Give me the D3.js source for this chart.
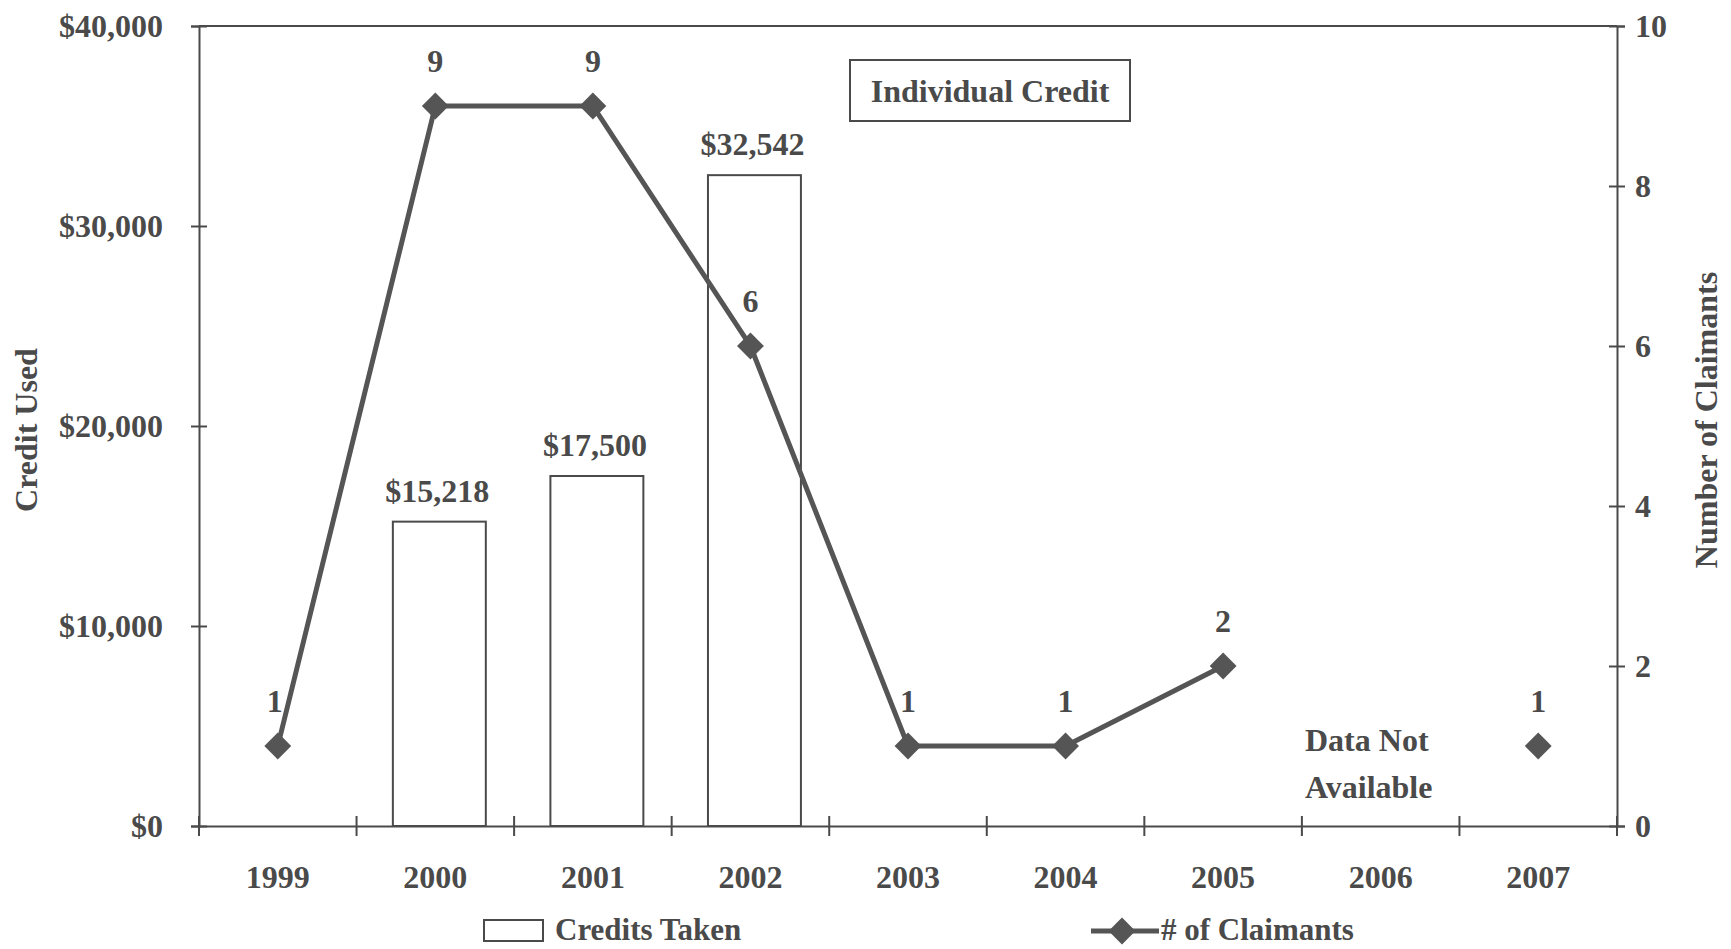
<!DOCTYPE html>
<html><head><meta charset="utf-8">
<script src="https://cdn.jsdelivr.net/npm/d3@7/dist/d3.min.js"></script>
<style>
html,body{margin:0;padding:0;background:#fff;}
text{font-family:"Liberation Serif","Times New Roman",serif;font-weight:bold;fill:#4a4a4a;}
</style></head>
<body><svg id="chart" width="1731" height="949"></svg>
<script>
const years = ["1999","2000","2001","2002","2003","2004","2005","2006","2007"];
const credits = [null, 15218, 17500, 32542, null, null, null, null, null];
const creditLabels = [null, "$15,218", "$17,500", "$32,542", null, null, null, null, null];
const claimants = [1, 9, 9, 6, 1, 1, 2, null, 1];
const leftTicks = [0, 10000, 20000, 30000, 40000];
const rightTicks = [0, 2, 4, 6, 8, 10];

const svg = d3.select("#chart");
const L = 199, R = 1617, T = 26, B = 826;
const ink = "#4a4a4a";
const FS = 32;

const x = d3.scaleBand().domain(years).range([L, R]).padding(0);
const yL = d3.scaleLinear().domain([0, 40000]).range([B, T]);
const yR = d3.scaleLinear().domain([0, 10]).range([B, T]);

// frame top line
svg.append("line").attr("x1", L).attr("x2", R).attr("y1", T).attr("y2", T)
  .attr("stroke", ink).attr("stroke-width", 2);

// bars
const bw = x.bandwidth() * 0.59;
const barData = years.map((y, i) => ({y, v: credits[i], l: creditLabels[i]})).filter(d => d.v != null);
svg.selectAll("rect.bar").data(barData)
  .enter().append("rect").attr("class", "bar")
  .attr("x", d => x(d.y) + x.bandwidth() / 2 - bw / 2 + 4)
  .attr("width", bw)
  .attr("y", d => yL(d.v))
  .attr("height", d => B - yL(d.v))
  .attr("fill", "#fff").attr("stroke", ink).attr("stroke-width", 2);

svg.selectAll("text.barlab").data(barData)
  .enter().append("text").attr("class", "barlab")
  .attr("x", d => x(d.y) + x.bandwidth() / 2 + 2)
  .attr("y", d => yL(d.v) - 20)
  .attr("text-anchor", "middle").attr("font-size", FS)
  .text(d => d.l);

// left axis
const axL = d3.axisLeft(yL).tickValues(leftTicks).tickSize(8)
  .tickFormat(d => "$" + d3.format(",")(d));
const gL = svg.append("g").attr("transform", `translate(${L},0)`).call(axL);
gL.attr("font-family", null).attr("font-size", null);
gL.select(".domain").attr("stroke", ink).attr("stroke-width", 2);
gL.selectAll(".tick line").attr("stroke", ink).attr("stroke-width", 2).attr("x1", 8).attr("x2", -8);
gL.selectAll(".tick text").attr("x", -36).attr("font-size", FS).attr("fill", ink);

// right axis
const axR = d3.axisRight(yR).tickValues(rightTicks).tickSize(8);
const gR = svg.append("g").attr("transform", `translate(${R},0)`).call(axR);
gR.attr("font-family", null).attr("font-size", null);
gR.select(".domain").attr("stroke", ink).attr("stroke-width", 2);
gR.selectAll(".tick line").attr("stroke", ink).attr("stroke-width", 2).attr("x1", -8).attr("x2", 8);
gR.selectAll(".tick text").attr("x", 18).attr("font-size", FS).attr("fill", ink);

// bottom axis
const axB = d3.axisBottom(x).tickSize(0);
const gB = svg.append("g").attr("transform", `translate(0,${B})`).call(axB);
gB.attr("font-family", null).attr("font-size", null);
gB.select(".domain").attr("stroke", ink).attr("stroke-width", 2);
gB.selectAll(".tick text").attr("y", 52).attr("dy", "0.32em").attr("font-size", FS).attr("fill", ink);
// category dividers
const bounds = years.map(y => x(y)).concat([R]);
svg.selectAll("line.xt").data(bounds).enter().append("line").attr("class", "xt")
  .attr("x1", d => d).attr("x2", d => d).attr("y1", B - 10).attr("y2", B + 10)
  .attr("stroke", ink).attr("stroke-width", 2);

// line
const pts = years.map((y, i) => ({y, v: claimants[i]}));
const line = d3.line().defined(d => d.v != null)
  .x(d => x(d.y) + x.bandwidth() / 2).y(d => yR(d.v));
svg.append("path").datum(pts).attr("d", line)
  .attr("fill", "none").attr("stroke", "#555").attr("stroke-width", 5);
const diamond = d3.symbol().type(d3.symbolDiamond2).size(460);
svg.selectAll("path.mk").data(pts.filter(d => d.v != null)).enter().append("path").attr("class", "mk")
  .attr("d", diamond)
  .attr("transform", d => `translate(${x(d.y) + x.bandwidth() / 2},${yR(d.v)})`)
  .attr("fill", "#555");
svg.selectAll("text.ptlab").data(pts.filter(d => d.v != null)).enter().append("text").attr("class", "ptlab")
  .attr("x", d => x(d.y) + x.bandwidth() / 2 - (d.y === "1999" ? 3 : 0))
  .attr("y", d => yR(d.v) - 34)
  .attr("text-anchor", "middle").attr("font-size", FS)
  .text(d => d.v);

// Data not available
svg.append("text").attr("x", 1305).attr("y", 751).attr("font-size", FS).text("Data Not");
svg.append("text").attr("x", 1305).attr("y", 798).attr("font-size", FS).text("Available");

// title box
svg.append("rect").attr("x", 850).attr("y", 60).attr("width", 280).attr("height", 61)
  .attr("fill", "#fff").attr("stroke", ink).attr("stroke-width", 2);
svg.append("text").attr("x", 990).attr("y", 102).attr("text-anchor", "middle").attr("font-size", FS).text("Individual Credit");

// axis titles
svg.append("text").attr("transform", "translate(37,430) rotate(-90)").attr("text-anchor", "middle")
  .attr("font-size", FS).text("Credit Used");
svg.append("text").attr("transform", "translate(1717,420) rotate(-90)").attr("text-anchor", "middle")
  .attr("font-size", FS).text("Number of Claimants");

// legend
svg.append("rect").attr("x", 484).attr("y", 920).attr("width", 59).attr("height", 21)
  .attr("fill", "#fff").attr("stroke", ink).attr("stroke-width", 2);
svg.append("text").attr("x", 555).attr("y", 940).attr("font-size", 31).text("Credits Taken");
svg.append("line").attr("x1", 1091).attr("x2", 1159).attr("y1", 931).attr("y2", 931)
  .attr("stroke", "#555").attr("stroke-width", 5);
svg.append("path").attr("d", diamond).attr("transform", "translate(1122,931)").attr("fill", "#555");
svg.append("text").attr("x", 1161).attr("y", 940).attr("font-size", 31).text("# of Claimants");
</script></body></html>
